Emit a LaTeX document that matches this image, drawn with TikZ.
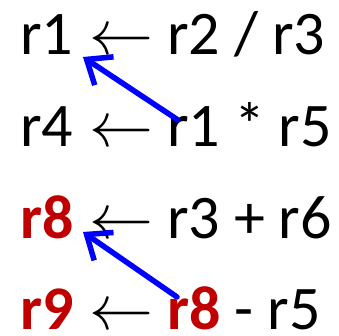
\documentclass[tikz,border=0pt]{standalone}
\usepackage{fix-cm}
\usepackage{fontspec}
\setmainfont{Carlito}
\usetikzlibrary{arrows.meta,calc}
\definecolor{regred}{HTML}{C00000}
\definecolor{depblue}{HTML}{0000FF}
\begin{document}
\begin{tikzpicture}[x=1pt,y=-1pt,
  txt/.style={anchor=base west,inner sep=0pt,outer sep=0pt,font=\fontsize{62}{62}\selectfont},
  hot/.style={txt,text=regred,font=\fontsize{62}{62}\selectfont\bfseries},
  gets/.style={txt,font=\fontsize{64}{64}\selectfont},
  dep/.style={draw=depblue,line width=5.5pt,line cap=round,line join=round,-{Straight Barb[length=21pt,width=34pt]}}]
\useasboundingbox (0,0) rectangle (339,336);
% line 1
\node[txt] (a1) at (20,55) {r1};
\node[gets] (m1) at (89,55) {$\leftarrow$};
\node[txt] (b1) at (167,55) {r2 / r3};
% line 2
\node[txt] (a2) at (20,147) {r4};
\node[gets] (m2) at (89,147) {$\leftarrow$};
\node[txt] (b2) at (167,147) {r1 * r5};
% line 3
\node[hot] (a3) at (20,238) {r8};
\node[gets] (m3) at (89,238) {$\leftarrow$};
\node[txt] (b3) at (167,238) {r3 + r6};
% line 4
\node[hot] (a4) at (20,329) {r9};
\node[gets] (m4) at (89,329) {$\leftarrow$};
\node[txt] (b4) at (167,329) {\textcolor{regred}{\bfseries r8} - r5};
% dependency arrows
\draw[dep] ($(b2.base west)+(11,-27)$) -- ($(a1.base west)+(63,2)$);
\draw[dep] ($(b4.base west)+(10,-32)$) -- ($(a3.base west)+(63,-6)$);
\end{tikzpicture}
\end{document}
